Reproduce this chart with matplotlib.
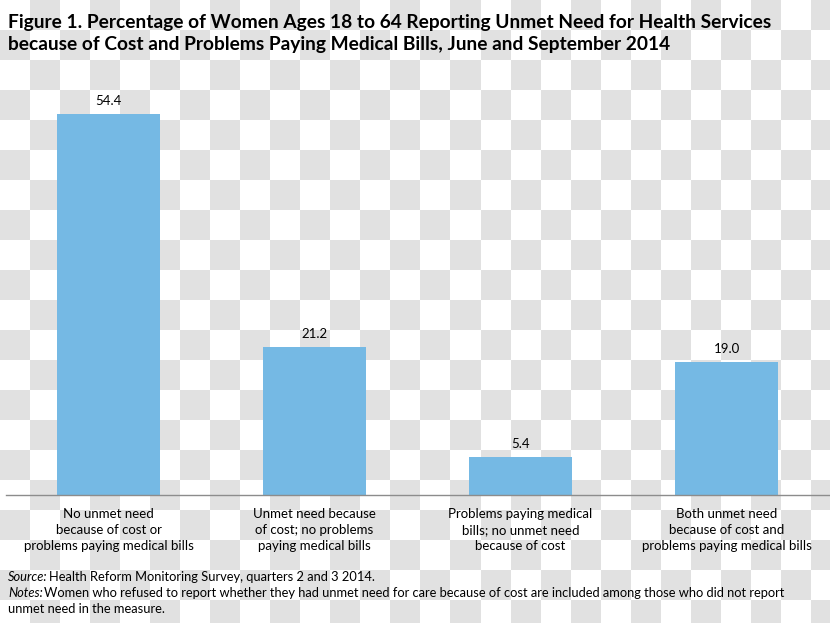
import numpy as np
import matplotlib
matplotlib.use("Agg")
import matplotlib.pyplot as plt

# data
categories = [
    "No unmet need\nbecause of cost or\nproblems paying medical bills",
    "Unmet need because\nof cost; no problems\npaying medical bills",
    "Problems paying medical\nbills; no unmet need\nbecause of cost",
    "Both unmet need\nbecause of cost and\nproblems paying medical bills",
]
values = [54.4, 21.2, 5.4, 19.0]
value_labels = ["54.4", "21.2", "5.4", "19.0"]

title = ("Figure 1. Percentage of Women Ages 18 to 64 Reporting Unmet Need for Health Services\n"
         "because of Cost and Problems Paying Medical Bills, June and September 2014")
source_lbl = "Source:"
source_txt = "Health Reform Monitoring Survey, quarters 2 and 3 2014."
notes_lbl = "Notes:"
notes_txt = ("Women who refused to report whether they had unmet need for care because of cost "
             "are included among those who did not report")
notes_txt2 = "unmet need in the measure."

FONT = "Lato"
BAR = "#75B9E4"

W, H = 830, 623
fig = plt.figure(figsize=(W / 100, H / 100), dpi=100)

# transparency checkerboard behind everything
bg = fig.add_axes([0, 0, 1, 1], zorder=-5)
cell = 30
ny, nx = int(np.ceil(H / cell)), int(np.ceil(W / cell))
jj, ii = np.indices((ny, nx))
checker = ((ii + jj) % 2).astype(float)
bg.imshow(checker, cmap=matplotlib.colors.ListedColormap(["#ffffff", "#e1e1e1"]),
          extent=[0, nx * cell, ny * cell, 0], interpolation="nearest", aspect="auto")
bg.set_xlim(0, W)
bg.set_ylim(H, 0)
bg.axis("off")

ax = fig.add_axes([5.5 / W, 1 - 495 / H, 824 / W, 420 / H])
ax.patch.set_alpha(0)
x = np.arange(len(values))
ax.bar(x, values, width=0.5, color=BAR)
for xi, v, lbl in zip(x, values, value_labels):
    ax.text(xi, v + 1.0, lbl, ha="center", va="bottom", fontsize=9.5,
            family=FONT, color="black")
ax.set_xlim(-0.5, 3.5)
ax.set_ylim(0, 60)
for s in ("top", "left", "right"):
    ax.spines[s].set_visible(False)
ax.spines["bottom"].set_color("#8c8c8c")
ax.spines["bottom"].set_linewidth(1.0)
ax.set_yticks([])
ax.set_xticks(x)
ax.set_xticklabels(categories, fontsize=9.5, family=FONT, linespacing=1.45)
ax.tick_params(axis="x", length=0, pad=9)

fig.text(8 / W, 1 - 14 / H, title, ha="left", va="top", fontsize=13.8,
         family=FONT, weight="bold", linespacing=1.38)

def two_part(xpx, ypx, lead, rest):
    t1 = fig.text(xpx / W, 1 - ypx / H, lead, ha="left", va="center",
                  fontsize=9.3, family=FONT, style="italic")
    fig.canvas.draw()
    bb = t1.get_window_extent()
    fig.text((bb.x1 + 1) / W, 1 - ypx / H, rest, ha="left", va="center",
             fontsize=9.3, family=FONT)

two_part(8, 577, source_lbl, source_txt)
two_part(8, 593, notes_lbl, notes_txt)
fig.text(8 / W, 1 - 609 / H, notes_txt2, ha="left", va="center", fontsize=9.3, family=FONT)

fig.savefig("out.png", dpi=100)
